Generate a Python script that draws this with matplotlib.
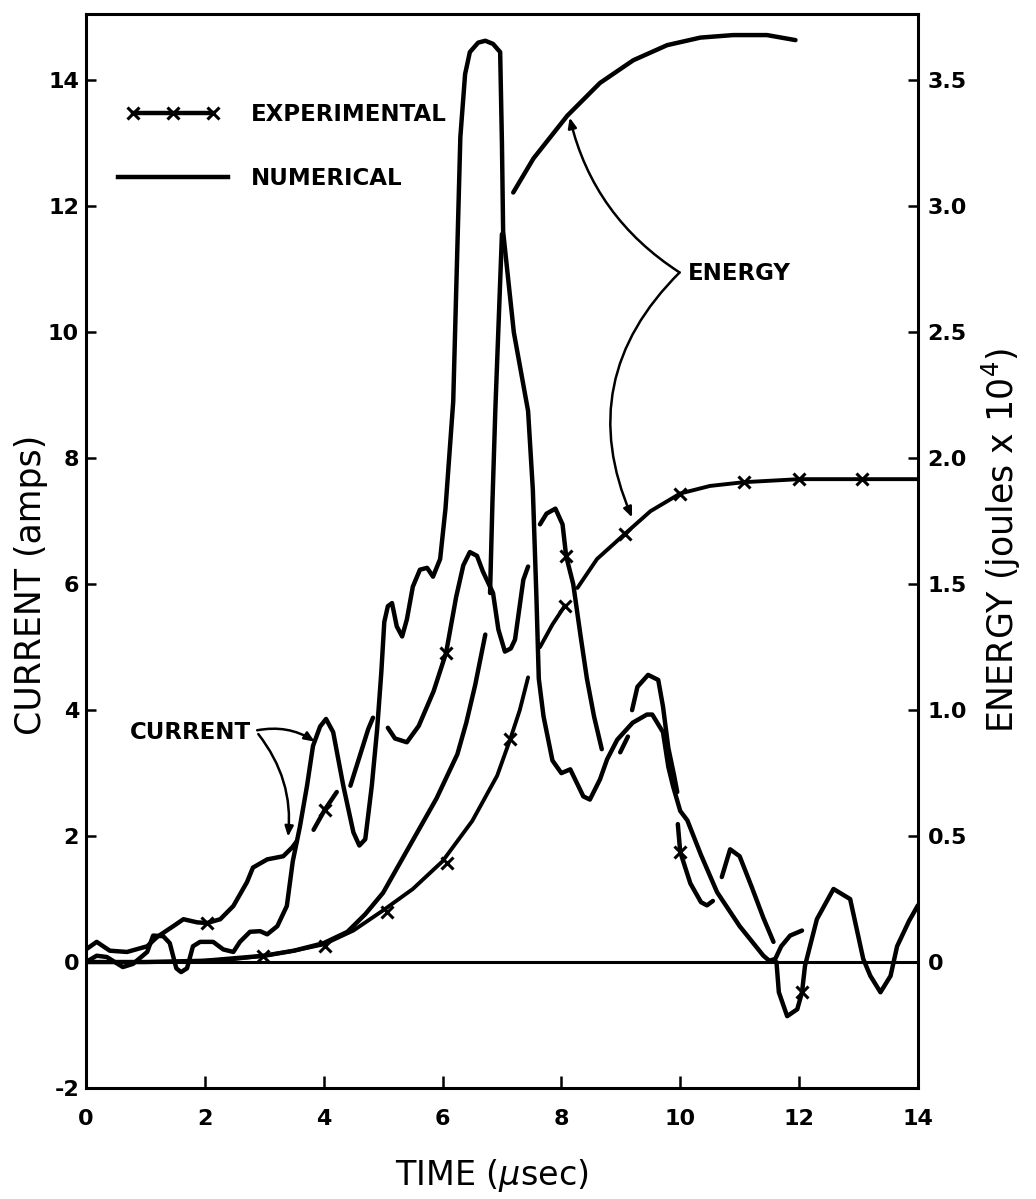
import numpy as np
import matplotlib
matplotlib.use("Agg")
import matplotlib.pyplot as plt
from matplotlib.lines import Line2D
from matplotlib.legend_handler import HandlerLine2D

nan = np.nan

# ---- current traces (amps vs usec); NaN = pen lifted where the trace crosses another line
exp_current_t = [0.0, 0.18, 0.4, 0.69, 1.03, 1.2, 1.47, 1.64, 1.87, 2.04, 2.26, 2.48, 2.71, 2.81,
                 3.05, 3.32, 3.47, 3.55, nan,
                 3.83, 4.02, 4.22, nan,
                 4.45, 4.6, 4.75, 4.83, nan,
                 5.08, 5.2, 5.4, 5.6, 5.85, 6.06, 6.23, 6.35, 6.46, 6.58, 6.68, 6.85, 6.94, 7.05,
                 7.15, 7.22, 7.36, 7.44, nan,
                 7.64, 7.75, 7.9, 8.02, 8.08, 8.2, 8.32, 8.43, 8.55, 8.68, nan,
                 8.99, 9.12, nan,
                 9.19, 9.28, 9.46, 9.63, 9.71, 9.8, 9.9, 9.95, nan,
                 9.96, 10.0, 10.17, 10.35, 10.45, 10.55, nan,
                 10.7, 10.84, 11.0, 11.2, 11.4, 11.57, nan,
                 11.62, 11.66, 11.8, 11.97, 12.05, 12.1, 12.3, 12.58, 12.86, 13.08, 13.2, 13.37,
                 13.54, 13.65, 13.85, 14.0]
exp_current_i = [0.2, 0.32, 0.18, 0.16, 0.25, 0.4, 0.57, 0.68, 0.63, 0.62, 0.68, 0.89, 1.27, 1.5,
                 1.63, 1.68, 1.82, 1.92, nan,
                 2.1, 2.42, 2.7, nan,
                 2.8, 3.25, 3.7, 3.88, nan,
                 3.72, 3.55, 3.49, 3.75, 4.3, 4.91, 5.8, 6.3, 6.51, 6.45, 6.2, 5.86, 5.28, 4.93,
                 4.98, 5.12, 6.07, 6.28, nan,
                 6.95, 7.12, 7.2, 6.95, 6.45, 6.0, 5.2, 4.5, 3.9, 3.38, nan,
                 3.33, 3.58, nan,
                 4.0, 4.37, 4.56, 4.48, 4.06, 3.4, 2.95, 2.7, nan,
                 2.19, 1.75, 1.25, 0.95, 0.9, 0.97, nan,
                 1.35, 1.79, 1.68, 1.2, 0.7, 0.32, nan,
                 0.0, -0.48, -0.86, -0.75, -0.48, -0.06, 0.68, 1.16, 1.0, 0.05, -0.22, -0.48,
                 -0.22, 0.25, 0.65, 0.9]
exp_current_mark_t = [2.04, 4.02, 6.06, 8.08, 10.0, 12.05]
exp_current_mark_i = [0.62, 2.42, 4.91, 6.45, 1.75, -0.48]

num_current_t = [0.0, 0.18, 0.35, 0.62, 0.79, 1.03, 1.13, 1.3, 1.41, 1.52, 1.6, 1.7, 1.8, 1.92,
                 2.14, 2.31, 2.48, 2.59, 2.76, 2.93, 3.05, 3.22, 3.38, 3.48, 3.6, 3.72, 3.82,
                 3.94, 4.04, 4.16, 4.33, 4.5, 4.6, 4.7, 4.81, 4.9, 4.97, 5.02, 5.08, 5.15, 5.23,
                 5.32, 5.4, 5.5, 5.62, 5.74, 5.84, 5.96, 6.05, 6.18, 6.3, 6.38, 6.46, 6.6, 6.72,
                 6.85, 6.97, 7.0, 7.02, 7.2, 7.44, 7.52, 7.58, 7.62, 7.7, 7.85, 8.0, 8.15, 8.37,
                 8.48, 8.65, 8.77, 8.94, 9.2, 9.44, 9.53, 9.71, 9.8, 9.88, 10.0, 10.12, 10.35,
                 10.62, 11.0, 11.4, 11.5, 11.6, 11.7, 11.85, 12.05]
num_current_i = [0.0, 0.1, 0.08, -0.08, -0.03, 0.16, 0.42, 0.41, 0.3, -0.1, -0.16, -0.1, 0.25, 0.32,
                 0.32, 0.2, 0.16, 0.32, 0.48, 0.49, 0.44, 0.57, 0.89, 1.6, 2.15, 2.8, 3.43,
                 3.74, 3.86, 3.65, 2.8, 2.06, 1.85, 1.95, 2.8, 3.7, 4.6, 5.4, 5.65, 5.7, 5.33,
                 5.17, 5.44, 5.96, 6.23, 6.26, 6.12, 6.4, 7.2, 8.9, 13.1, 14.1, 14.45, 14.6, 14.63,
                 14.58, 14.45, 13.0, 11.6, 10.0, 8.75, 7.5, 5.8, 4.5, 3.9, 3.2, 3.0, 3.06, 2.63,
                 2.58, 2.9, 3.22, 3.53, 3.8, 3.93, 3.93, 3.65, 3.1, 2.79, 2.4, 2.25, 1.7,
                 1.11, 0.57, 0.1, 0.02, 0.05, 0.25, 0.42, 0.5]

# ---- energy traces (joules x 10^4 vs usec)
num_energy_t = [0.0, 1.0, 2.0, 3.0, 3.5, 4.0, 4.4, 4.7, 5.0, 5.3, 5.6, 5.9, 6.08, 6.25, 6.4, 6.55,
                6.72, nan,
                6.8, 6.84, 6.89, 6.95, 7.0, nan,
                7.19, 7.53, 8.1, 8.65, 9.21, 9.78, 10.34, 10.89, 11.46, 11.94]
num_energy_e = [0.0, 0.0, 0.005, 0.025, 0.045, 0.075, 0.12, 0.19, 0.275, 0.4, 0.525, 0.65, 0.74,
                0.825, 0.95, 1.1, 1.3, nan,
                1.465, 1.825, 2.2, 2.575, 2.89, nan,
                3.055, 3.19, 3.36, 3.49, 3.58, 3.64, 3.67, 3.68, 3.68, 3.66]

exp_energy_t = [0.0, 1.5, 2.0, 2.5, 3.0, 3.5, 4.0, 4.5, 5.0, 5.5, 6.0, 6.5, 6.92, 7.14, 7.3, 7.44,
                nan,
                7.64, 7.85, 8.06, nan,
                8.27, 8.6, 9.07, 9.5, 10.0, 10.5, 11.07, 12.0, 13.0, 14.0]
exp_energy_e = [0.0, 0.0, 0.005, 0.012, 0.025, 0.045, 0.07, 0.125, 0.205, 0.29, 0.4, 0.56, 0.74,
                0.885, 1.0, 1.13, nan,
                1.25, 1.34, 1.415, nan,
                1.485, 1.6, 1.7, 1.79, 1.86, 1.89, 1.905, 1.917, 1.917, 1.917]
exp_energy_mark_t = [2.98, 4.02, 5.07, 6.08, 7.14, 8.06, 9.07, 10.0, 11.07, 12.0, 13.06]
exp_energy_mark_e = [0.025, 0.065, 0.2, 0.395, 0.885, 1.415, 1.70, 1.86, 1.905, 1.917, 1.917]

x_ticks = [0, 2, 4, 6, 8, 10, 12, 14]
current_ticks = [-2, 0, 2, 4, 6, 8, 10, 12, 14]
energy_ticks = [0, 0.5, 1.0, 1.5, 2.0, 2.5, 3.0, 3.5]
energy_labels = ["0", "0.5", "1.0", "1.5", "2.0", "2.5", "3.0", "3.5"]

LW = 3.2
MK = dict(marker="x", ms=9, mew=2.2, color="black", ls="none")
line_kw = dict(color="black", solid_capstyle="round", solid_joinstyle="round")

fig = plt.figure(figsize=(10.36, 11.99), dpi=100)
ax = fig.add_axes([0.083, 0.0926, 0.803, 0.896])
ax2 = ax.twinx()

ymin, ymax = -2.0, 15.06
ax.set_xlim(0, 14)
ax.set_ylim(ymin, ymax)
ax2.set_ylim(ymin / 4, ymax / 4)

ax.axhline(0, color="black", lw=2.2)

ax.plot(num_current_t, num_current_i, lw=LW, **line_kw)
ax.plot(exp_current_t, exp_current_i, lw=LW, **line_kw)
ax.plot(exp_current_mark_t, exp_current_mark_i, **MK)

ax2.plot(num_energy_t, num_energy_e, lw=LW, **line_kw)
ax2.plot(exp_energy_t, exp_energy_e, lw=2.8, **line_kw)
ax2.plot(exp_energy_mark_t, exp_energy_mark_e, **MK)

# spines and ticks
for a in (ax, ax2):
    for s in a.spines.values():
        s.set_linewidth(2.2)
ax2.spines["left"].set_visible(False)
ax2.spines["top"].set_visible(False)
ax2.spines["bottom"].set_visible(False)
ax.spines["right"].set_visible(False)

ax.set_xticks(x_ticks)
ax.set_yticks(current_ticks)
ax.set_xticklabels([str(v) for v in x_ticks], fontsize=16, fontweight="bold")
ax.set_yticklabels([str(v) for v in current_ticks], fontsize=16, fontweight="bold")
ax.tick_params(axis="x", direction="in", length=9, width=1.8, pad=15)
ax.tick_params(axis="y", direction="in", length=7, width=1.8, pad=5)
ax2.set_yticks(energy_ticks)
ax2.set_yticklabels(energy_labels, fontsize=16, fontweight="bold")
ax2.tick_params(axis="y", direction="in", length=7, width=1.8, pad=7)

ax.set_ylabel("CURRENT (amps)", fontsize=25)
ax.yaxis.set_label_coords(-0.046, 0.468)
ax2.set_ylabel(r"ENERGY (joules x 10$^{4}$)", fontsize=25)
ax2.yaxis.set_label_coords(1.075, 0.51)
ax.set_xlabel(r"TIME ($\mu$sec)", fontsize=24)
ax.xaxis.set_label_coords(0.488, -0.064)

# legend
handles = [Line2D([], [], color="black", lw=LW, marker="x", ms=9, mew=2.2),
           Line2D([], [], color="black", lw=LW)]
leg = ax.legend(handles, ["EXPERIMENTAL", "NUMERICAL"], loc="upper left",
                bbox_to_anchor=(0.03, 0.917), frameon=False, numpoints=3,
                handlelength=5.4, handletextpad=0.7, labelspacing=1.8,
                borderpad=0, borderaxespad=0,
                handler_map={handles[0]: HandlerLine2D(marker_pad=0.95)},
                prop=dict(size=16.5, weight="bold"))

# annotations
txt_kw = dict(fontsize=16.5, fontweight="bold", va="center")
ax.text(10.13, 10.94, "ENERGY", ha="left", **txt_kw)
arrow_kw = dict(arrowstyle="-|>,head_length=0.6,head_width=0.25", color="black", lw=1.8,
                shrinkA=0, shrinkB=0)
ax.annotate("", xy=(8.14, 13.41), xytext=(9.99, 10.95),
            arrowprops=dict(connectionstyle="arc3,rad=-0.2", **arrow_kw))
ax.annotate("", xy=(9.19, 7.06), xytext=(9.99, 10.95),
            arrowprops=dict(connectionstyle="arc3,rad=0.34", **arrow_kw))

ax.text(0.74, 3.65, "CURRENT", ha="left", **txt_kw)
ax.annotate("", xy=(3.85, 3.5), xytext=(2.88, 3.68),
            arrowprops=dict(connectionstyle="arc3,rad=-0.2", **arrow_kw))
ax.annotate("", xy=(3.4, 1.99), xytext=(2.9, 3.62),
            arrowprops=dict(connectionstyle="arc3,rad=-0.2", **arrow_kw))

fig.savefig("out.png", dpi=100, facecolor="white")
